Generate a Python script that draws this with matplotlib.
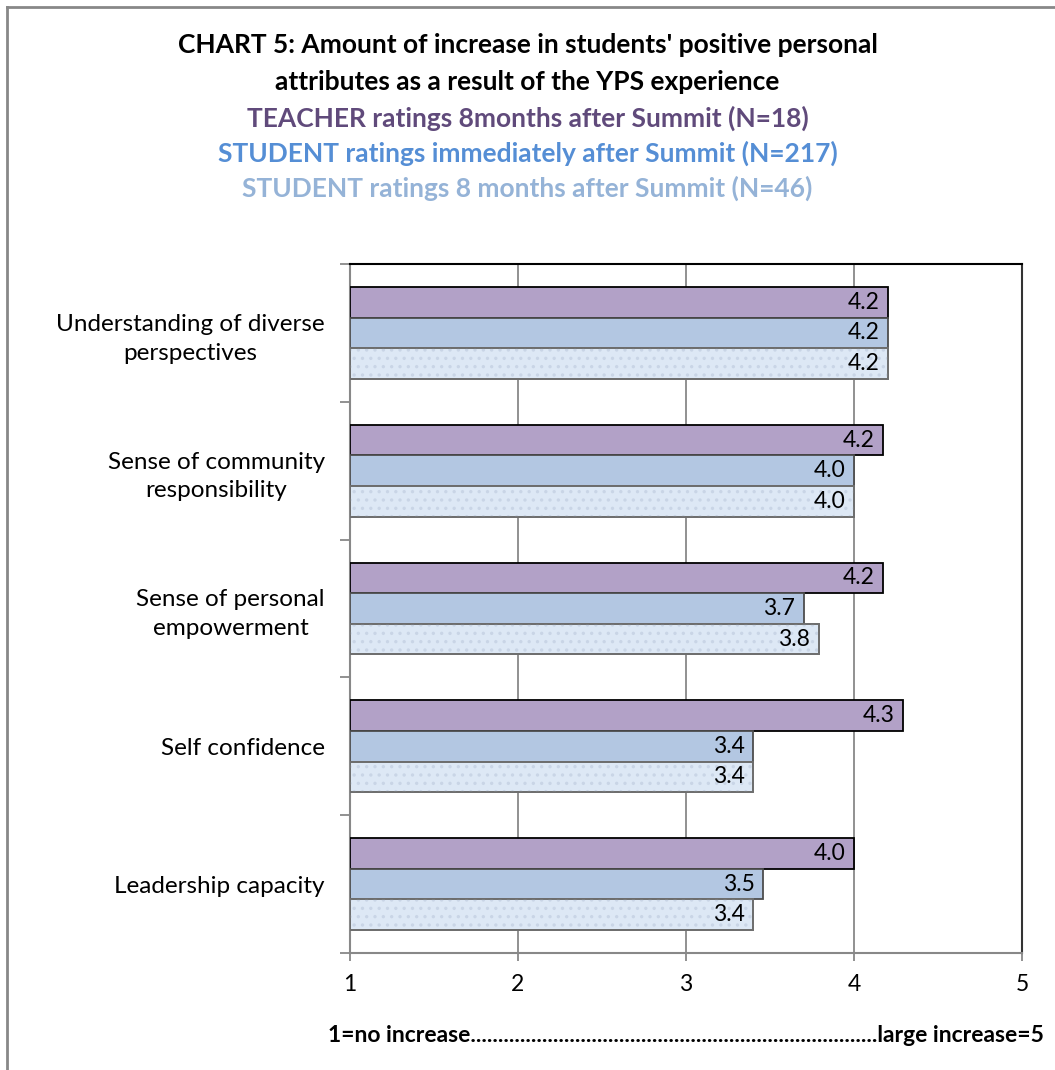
import matplotlib.pyplot as plt
import numpy as np
from matplotlib.lines import Line2D

plt.rcParams['font.family'] = ['Lato', 'DejaVu Sans']
plt.rcParams['hatch.linewidth'] = 1.2

categories = ['Understanding of diverse\nperspectives',
              'Sense of community\nresponsibility',
              'Sense of personal\nempowerment',
              'Self confidence',
              'Leadership capacity']
teacher_8m = [4.2, 4.17, 4.17, 4.29, 4.0]
student_now = [4.2, 4.0, 3.7, 3.4, 3.46]
student_8m = [4.2, 4.0, 3.79, 3.4, 3.4]

series = [teacher_8m, student_now, student_8m]
fills = ['#B2A1C7', '#B3C7E2', '#DDE8F5']
edges = ['#000000', '#4D4D4D', '#6E6E6E']
heading_colors = ['#604A7B', '#558ED5', '#95B3D7']
headings = ['TEACHER ratings 8months after Summit (N=18)',
            'STUDENT ratings immediately after Summit (N=217)',
            'STUDENT ratings 8 months after Summit (N=46)']

fig = plt.figure(figsize=(10.55, 10.70), dpi=100)
ax = fig.add_axes([350 / 1055, 1 - 953 / 1070, 672 / 1055, 689 / 1070])

y = np.arange(len(categories))
h = 0.222
for i, vals in enumerate(series):
    pos = y + (i - 1) * h
    widths = [v - 1 for v in vals]
    ax.barh(pos, widths, left=1, height=h, color=fills[i],
            edgecolor=edges[i], linewidth=1.3, zorder=3)
    if i == 2:
        # speckled texture on the last series
        ax.barh(pos, widths, left=1, height=h, facecolor='none',
                edgecolor='#C9D5E6', hatch='..', linewidth=0, zorder=3.5)
        ax.barh(pos, widths, left=1, height=h, facecolor='none',
                edgecolor=edges[i], linewidth=1.3, zorder=3.6)
    for p, v in zip(pos, vals):
        ax.text(v - 0.05, p, f'{v:.1f}', ha='right', va='center',
                fontsize=16.5, color='black', zorder=4)

ax.set_xlim(1, 5)
ax.set_ylim(len(categories) - 0.5, -0.5)
ax.set_xticks([1, 2, 3, 4, 5])
ax.set_xticklabels(['1', '2', '3', '4', '5'], fontsize=16.5)
ax.set_yticks(y)
ax.set_yticklabels(categories, fontsize=17.5, ha='right', multialignment='center',
                   linespacing=1.45)
ax.set_yticks(np.arange(-0.5, len(categories)), minor=True)
ax.tick_params(axis='y', which='major', length=0, pad=18)
ax.tick_params(axis='y', which='minor', length=7, color='#888888', width=1.3)
ax.tick_params(axis='x', length=6, color='#888888', width=1.3, pad=9)
ax.grid(axis='x', color='#888888', linewidth=1.3, zorder=0)

ax.spines['left'].set_color('#888888')
ax.spines['bottom'].set_color('#888888')
ax.spines['top'].set_color('black')
ax.spines['right'].set_color('#333333')
for s in ax.spines.values():
    s.set_linewidth(1.5)

ax.set_xlabel('1=no increase' + '.' * 74 + 'large increase=5',
              fontsize=16.5, fontweight='bold', labelpad=22)

fig.text(0.5, 1 - 45 / 1070, "CHART 5: Amount of increase in students' positive personal",
         ha='center', va='center', fontsize=19, fontweight='bold')
fig.text(0.5, 1 - 82 / 1070, 'attributes as a result of the YPS experience',
         ha='center', va='center', fontsize=19, fontweight='bold')
for k, (txt, col) in enumerate(zip(headings, heading_colors)):
    fig.text(0.5, 1 - (118 + 35 * k) / 1070, txt, ha='center', va='center',
             fontsize=19, fontweight='bold', color=col)

fig.add_artist(Line2D([7 / 1055, 7 / 1055], [0, 1 - 7 / 1070], transform=fig.transFigure,
                      color='#888888', linewidth=2))
fig.add_artist(Line2D([7 / 1055, 1], [1 - 7 / 1070, 1 - 7 / 1070], transform=fig.transFigure,
                      color='#888888', linewidth=2))

plt.savefig('out.png', dpi=100)
